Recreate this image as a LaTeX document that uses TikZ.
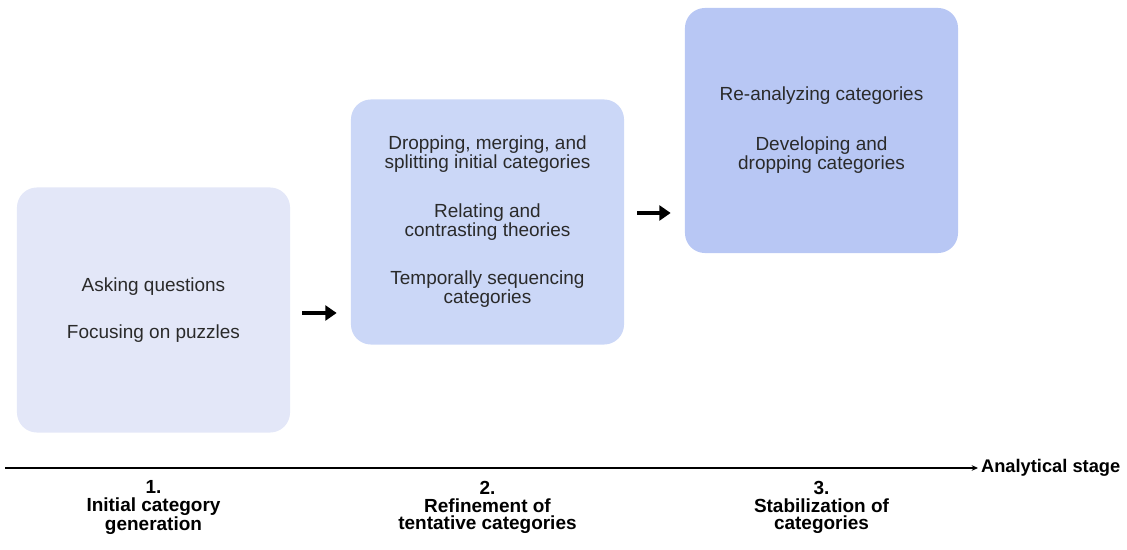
\documentclass[tikz,border=0pt]{standalone}
\usepackage{fontspec}
\setmainfont{Liberation Sans}
\usetikzlibrary{arrows.meta,positioning,calc}
\definecolor{StageLight}{HTML}{E3E7F8}
\definecolor{StageMid}{HTML}{CBD7F7}
\definecolor{StageDeep}{HTML}{B8C7F4}
\definecolor{StageText}{HTML}{2A2A2A}

\begin{document}
\begin{tikzpicture}[
    x=0.025cm,y=-0.025cm,
    box/.style={rounded corners=0.5cm,minimum width=6.825cm,minimum height=6.125cm,
      align=center,text=StageText,font=\fontsize{13.5}{13.5}\selectfont},
    stage/.style={align=center,font=\fontsize{13.5}{12.3}\selectfont\bfseries},
    arr/.style={-{Triangle[length=8pt,width=10.5pt]},line width=2.8pt,black},
    axis/.style={-{Stealth[length=4.5pt,width=4pt]},line width=0.8pt}
  ]
    \useasboundingbox (0,0) rectangle (1127,550);
    \node[box,fill=StageLight] (init) at (153.5,310) {Asking questions\\[20.5pt]Focusing on puzzles};
    \node[box,fill=StageMid] (refine) at (487.5,222) {Dropping, merging, and\\splitting initial categories\\[21pt]Relating and\\contrasting theories\\[21pt]Temporally sequencing\\categories};
    \node[box,fill=StageDeep] (stab) at (821.5,130.5) {Re-analyzing categories\\[22pt]Developing and\\dropping categories};
    \draw[arr] ($(init.east)+(0.3cm,-0.075cm)$) -- ($(init.east -| refine.west)+(-0.35cm,-0.075cm)$);
    \draw[arr] ($(refine.east)+(0.32cm,0.225cm)$) -- ($(refine.east -| stab.west)+(-0.35cm,0.225cm)$);
    % time line
    \coordinate (origin) at (5,468);
    \node[stage,font=\fontsize{13}{13}\selectfont\bfseries,anchor=west,inner sep=2pt] (axlabel) at (978,468) {Analytical stage};
    \draw[axis] (origin) -- (axlabel.west);
    \node[stage] (s1) at (init |- 0,507.5) {1.\\Initial category\\generation};
    \node[stage] (s2) at (refine |- 0,507.5) {2.\\Refinement of\\tentative categories};
    \node[stage] (s3) at (stab |- 0,507.5) {3.\\Stabilization of\\categories};
  \end{tikzpicture}
\end{document}
